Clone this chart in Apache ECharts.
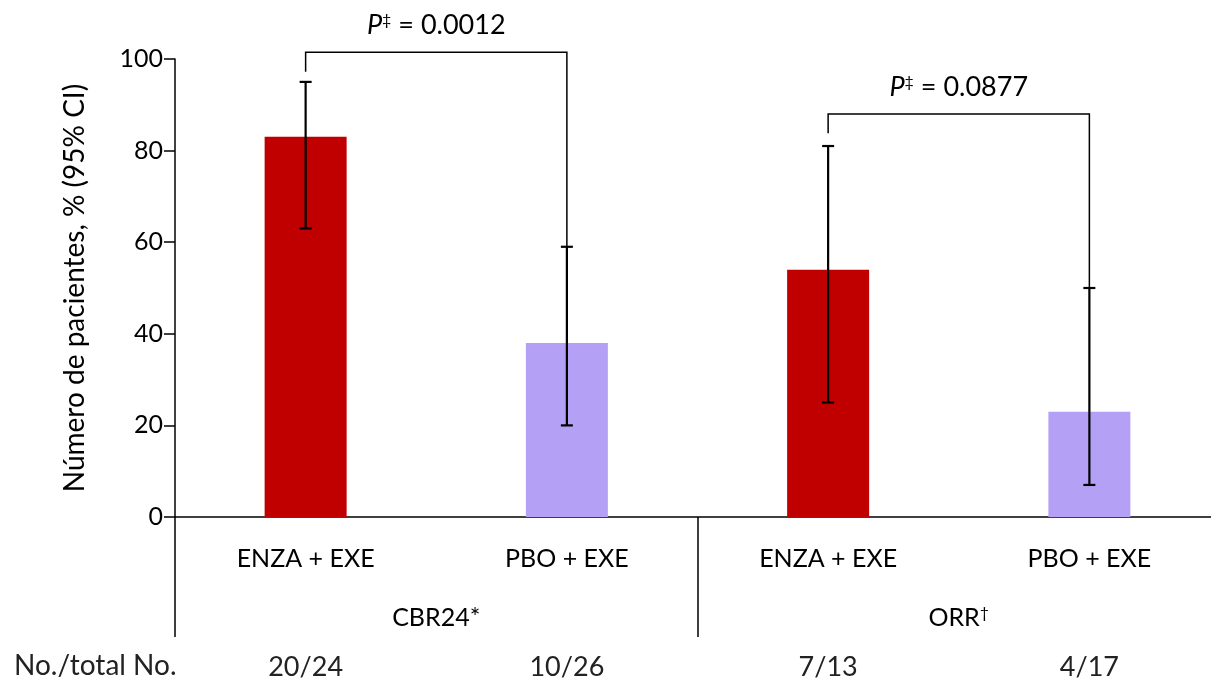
<!DOCTYPE html>
<html>
<head>
<meta charset="utf-8">
<script src="https://cdn.jsdelivr.net/npm/echarts@6/dist/echarts.min.js"></script>
<style>
  html, body { margin: 0; padding: 0; background: #fff; }
  #main { width: 1211px; height: 686px; }
</style>
</head>
<body>
<div id="main"></div>
<script>
// data
var groups = ['ENZA + EXE', 'PBO + EXE', 'ENZA + EXE', 'PBO + EXE'];
var outcomes = ['CBR24*', 'ORR†'];
var ratios = ['20/24', '10/26', '7/13', '4/17'];
var values = [83, 38, 54, 23];
var ciLow = [63, 20, 25, 7];
var ciHigh = [95, 59, 81, 50];
var barColors = ['#C00000', '#B4A0F5', '#C00000', '#B4A0F5'];
// brackets: [from, to, top, leftEnd, rightEnd, p]
var brackets = [
    [0, 1, 101.5, 97.2, 59, '0.0012'],
    [2, 3, 88, 83.8, 50, '0.0877']
];

var font = 'Lato, "Open Sans", sans-serif';
var myChart = echarts.init(document.getElementById('main'));

var option = {
    animation: false,
    textStyle: { fontFamily: font },
    grid: { left: 175, width: 1045, top: 59, bottom: 169, containLabel: false, outerBoundsMode: 'none' },
    xAxis: [
        {
            type: 'category',
            data: groups,
            axisLine: { lineStyle: { color: '#000', width: 1.5 } },
            axisTick: { show: false },
            axisLabel: { fontSize: 25, color: '#000', margin: 29, fontFamily: font }
        },
        {
            type: 'category',
            data: outcomes,
            position: 'bottom',
            axisLine: { show: false },
            axisTick: { show: true, length: 120, lineStyle: { color: '#000', width: 1.5 } },
            axisLabel: {
                margin: 88,
                fontFamily: font,
                formatter: function (v) {
                    var last = v.slice(-1);
                    if (last === '†') return '{a|' + v.slice(0, -1) + '}{s|†}';
                    return '{a|' + v + '}';
                },
                rich: {
                    a: { fontSize: 25, color: '#000', fontFamily: font },
                    s: { fontSize: 16, color: '#000', fontFamily: font, verticalAlign: 'top', padding: [0, 0, 8, 0] }
                }
            }
        },
        {
            type: 'category',
            data: ratios,
            position: 'bottom',
            axisLine: { show: false },
            axisTick: { show: false },
            axisLabel: { fontSize: 27, color: '#222', margin: 137, fontFamily: font }
        }
    ],
    yAxis: {
        type: 'value',
        min: 0,
        max: 100,
        interval: 20,
        name: 'Número de pacientes, % (95% CI)',
        nameLocation: 'middle',
        nameGap: 86,
        nameTextStyle: { fontSize: 28, color: '#000', fontFamily: font },
        axisLine: { show: true, lineStyle: { color: '#000', width: 1.5 } },
        axisTick: { show: true, length: 11, lineStyle: { color: '#000', width: 1.5 } },
        axisLabel: { fontSize: 25, color: '#000', margin: 12, fontFamily: font },
        splitLine: { show: false }
    },
    graphic: [
        {
            type: 'text',
            left: 14,
            top: 652,
            style: { text: 'No./total No.', fontSize: 28, fill: '#222', fontFamily: font }
        }
    ],
    series: [
        {
            type: 'bar',
            barWidth: 82,
            data: values.map(function (v, i) {
                return { value: v, itemStyle: { color: barColors[i] } };
            })
        },
        {
            type: 'custom',
            data: values.map(function (v, i) { return [i, ciLow[i], ciHigh[i]]; }),
            renderItem: function (params, api) {
                var lo = api.coord([api.value(0), api.value(1)]);
                var hi = api.coord([api.value(0), api.value(2)]);
                var w = 6;
                var st = { stroke: '#000', lineWidth: 2.2 };
                return {
                    type: 'group',
                    children: [
                        { type: 'line', shape: { x1: lo[0], y1: lo[1], x2: hi[0], y2: hi[1] }, style: st },
                        { type: 'line', shape: { x1: hi[0] - w, y1: hi[1], x2: hi[0] + w, y2: hi[1] }, style: st },
                        { type: 'line', shape: { x1: lo[0] - w, y1: lo[1], x2: lo[0] + w, y2: lo[1] }, style: st }
                    ]
                };
            },
            z: 5
        },
        {
            type: 'custom',
            clip: false,
            data: brackets,
            renderItem: function (params, api) {
                var b = brackets[params.dataIndex];
                var pl = api.coord([b[0], b[3]]);
                var pt = api.coord([b[0], b[2]]);
                var pr = api.coord([b[1], b[4]]);
                var qt = api.coord([b[1], b[2]]);
                return {
                    type: 'group',
                    children: [
                        {
                            type: 'polyline',
                            shape: { points: [pl, pt, qt, pr] },
                            style: { stroke: '#000', lineWidth: 1.5, fill: null }
                        },
                        {
                            type: 'text',
                            x: (pt[0] + qt[0]) / 2,
                            y: pt[1] - 27,
                            style: {
                                text: '{i|P}{s|‡}{n| = ' + b[5] + '}',
                                align: 'center',
                                verticalAlign: 'middle',
                                rich: {
                                    i: { fontSize: 27, fontStyle: 'italic', fill: '#000', fontFamily: font },
                                    s: { fontSize: 16, fill: '#000', fontFamily: font, verticalAlign: 'top', padding: [0, 0, 11, 0] },
                                    n: { fontSize: 27, fill: '#000', fontFamily: font }
                                }
                            }
                        }
                    ]
                };
            },
            z: 6
        }
    ]
};
myChart.setOption(option);
</script>
</body>
</html>
